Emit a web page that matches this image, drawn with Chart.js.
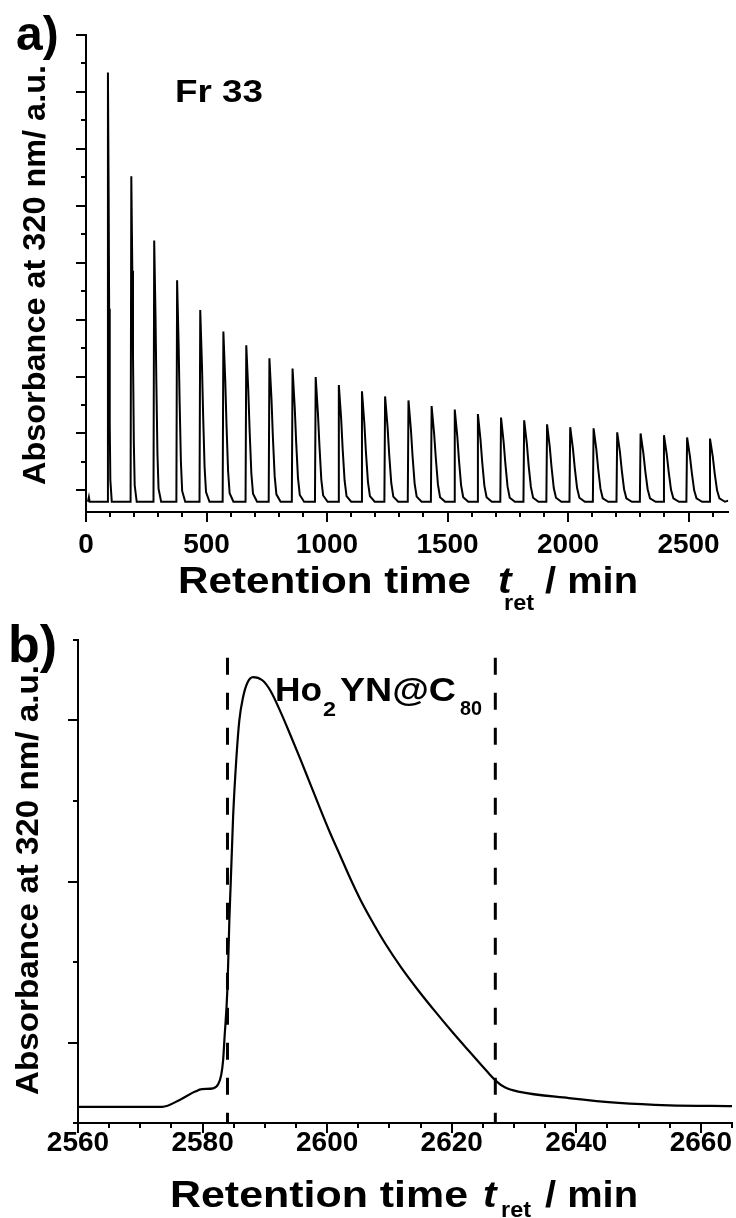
<!DOCTYPE html>
<html>
<head>
<meta charset="utf-8">
<title>Recycling HPLC of Fr 33</title>
<script src="https://cdn.jsdelivr.net/npm/chart.js@4.4.0/dist/chart.umd.min.js"></script>
<style>
  html, body { margin: 0; padding: 0; background: #fff; }
  #wrap { position: relative; width: 736px; height: 1218px; overflow: hidden; background: #fff; }
  canvas { position: absolute; left: 0; }
  #chartA { top: 0; }
  #chartB { top: 600px; }
</style>
</head>
<body>
<div id="wrap">
  <canvas id="chartA" width="736" height="630"></canvas>
  <canvas id="chartB" width="736" height="618"></canvas>
</div>
<script>
// ---------- panel a: 27 recycling passes of Fr 33 ----------
// retention time (min) and absorbance (a.u.), one row per pass
const passTime = [
  [8, 12, 15],
  [88, 91, 94, 96, 98.5, 101, 107],
  [185, 188, 192.2, 195, 198.5, 202, 210.4],
  [280, 283, 288.4, 292, 296.5, 301, 311.8],
  [375, 378, 384.3, 388.5, 393.8, 399, 411.6],
  [471, 474, 481.2, 486, 492, 498, 512.4],
  [567, 570, 577.8, 583, 589.5, 596, 611.6],
  [662, 665, 673.4, 679, 686, 693, 709.8],
  [758, 761, 769.7, 775.5, 782.8, 790, 807.4],
  [854, 857, 866, 872, 879.5, 887, 905],
  [950, 953, 962.3, 968.5, 976.3, 984, 1002.6],
  [1046, 1049, 1058.6, 1065, 1073, 1081, 1100.2],
  [1142, 1145, 1154.9, 1161.5, 1169.8, 1178, 1197.8],
  [1238, 1241, 1251.2, 1258, 1266.5, 1275, 1295.4],
  [1335, 1338, 1348.2, 1355, 1363.5, 1372, 1392.4],
  [1431, 1434, 1444.5, 1451.5, 1460.3, 1469, 1490],
  [1527, 1530, 1540.5, 1547.5, 1556.3, 1565, 1586],
  [1623, 1626, 1636.8, 1644, 1653, 1662, 1683.6],
  [1719, 1722, 1732.8, 1740, 1749, 1758, 1779.6],
  [1815, 1818, 1829.1, 1836.5, 1845.8, 1855, 1877.2],
  [1910, 1913, 1924.1, 1931.5, 1940.8, 1950, 1972.2],
  [2006, 2009, 2020.4, 2028, 2037.5, 2047, 2069.8],
  [2103, 2106, 2117.4, 2125, 2134.5, 2144, 2166.8],
  [2201, 2204, 2215.4, 2223, 2232.5, 2242, 2264.8],
  [2298, 2301, 2312.7, 2320.5, 2330.3, 2340, 2363.4],
  [2395, 2398, 2409.7, 2417.5, 2427.3, 2437, 2460.4],
  [2491, 2494, 2505.7, 2513.5, 2523.3, 2533, 2556.4],
  [2586, 2589, 2600.7, 2608.5, 2618.3, 2628, 2651.4],
  [2665]
];
const passSignal = [
  [-0.2, -0.12, -0.2],
  [-0.2, 7.34, 5.15, 3.19, 1.16, 0.18, -0.2],
  [-0.2, 5.52, 3.86, 2.37, 0.83, 0.09, -0.2],
  [-0.2, 4.39, 3.06, 1.87, 0.63, 0.03, -0.2],
  [-0.2, 3.69, 2.56, 1.55, 0.50, -0.01, -0.2],
  [-0.2, 3.17, 2.19, 1.32, 0.41, -0.03, -0.2],
  [-0.2, 2.79, 1.92, 1.15, 0.34, -0.05, -0.2],
  [-0.2, 2.55, 1.75, 1.04, 0.30, -0.06, -0.2],
  [-0.2, 2.32, 1.59, 0.93, 0.25, -0.07, -0.2],
  [-0.2, 2.14, 1.46, 0.85, 0.22, -0.08, -0.2],
  [-0.2, 1.99, 1.35, 0.79, 0.19, -0.09, -0.2],
  [-0.2, 1.85, 1.26, 0.72, 0.17, -0.10, -0.2],
  [-0.2, 1.74, 1.18, 0.67, 0.15, -0.10, -0.2],
  [-0.2, 1.65, 1.11, 0.63, 0.13, -0.11, -0.2],
  [-0.2, 1.58, 1.06, 0.60, 0.12, -0.11, -0.2],
  [-0.2, 1.48, 0.99, 0.56, 0.10, -0.12, -0.2],
  [-0.2, 1.42, 0.95, 0.53, 0.09, -0.12, -0.2],
  [-0.2, 1.34, 0.89, 0.49, 0.08, -0.12, -0.2],
  [-0.2, 1.28, 0.85, 0.47, 0.07, -0.13, -0.2],
  [-0.2, 1.23, 0.82, 0.44, 0.06, -0.13, -0.2],
  [-0.2, 1.16, 0.77, 0.41, 0.04, -0.13, -0.2],
  [-0.2, 1.11, 0.73, 0.39, 0.04, -0.13, -0.2],
  [-0.2, 1.09, 0.72, 0.38, 0.03, -0.14, -0.2],
  [-0.2, 1.02, 0.67, 0.35, 0.02, -0.14, -0.2],
  [-0.2, 1.00, 0.65, 0.34, 0.02, -0.14, -0.2],
  [-0.2, 0.97, 0.63, 0.33, 0.01, -0.14, -0.2],
  [-0.2, 0.93, 0.60, 0.31, 0.00, -0.14, -0.2],
  [-0.2, 0.91, 0.59, 0.30, 0.00, -0.14, -0.2],
  [-0.18]
];
const axisALabels = [0, 500, 1000, 1500, 2000, 2500];

// ---------- panel b: last pass, Ho2YN@C80 ----------
const lastPassTime = [2560, 2573.5, 2576.4, 2578.8, 2579.9, 2581.7, 2582.5, 2583.0, 2583.3, 2583.5,
  2584.0, 2584.3, 2584.9, 2585.4, 2585.9, 2586.5, 2587.2, 2588.1, 2589.6, 2590.9, 2592.5, 2594.1,
  2595.7, 2597.3, 2598.9, 2600.5, 2602.1, 2603.7, 2605.3, 2606.9, 2609.4, 2611.9, 2614.7, 2617.4,
  2620.1, 2622.7, 2625.0, 2627.0, 2628.6, 2630.7, 2638.8, 2646.8, 2654.9, 2665];
const lastPassSignal = [0.20, 0.20, 0.29, 0.39, 0.42, 0.43, 0.48, 0.60, 0.78, 1.03,
  1.69, 2.52, 3.80, 4.50, 5.00, 5.29, 5.47, 5.54, 5.50, 5.37, 5.11, 4.82,
  4.52, 4.21, 3.90, 3.60, 3.32, 3.04, 2.78, 2.55, 2.22, 1.93, 1.64, 1.38,
  1.13, 0.90, 0.70, 0.53, 0.44, 0.39, 0.31, 0.25, 0.22, 0.21];
const cutTimes = [2584, 2627];       // fraction collection window
const cutLineTop = 5.78;
const axisBLabels = [2560, 2580, 2600, 2620, 2640, 2660];

// ---------- shared styling ----------
const FAMILY = '"Liberation Sans", Arial, Helvetica, sans-serif';
const INK = '#000';

function toPoints(times, values) {
  const pts = [];
  times.forEach((row, i) => row.forEach((t, j) => pts.push({ x: t, y: values[i][j] })));
  return pts;
}
function range(from, to, step) {
  const out = [];
  for (let v = from; v <= to + 1e-9; v += step) out.push(Math.round(v * 1000) / 1000);
  return out;
}

// draws a bold string; optional horizontal stretch to a given width, rotation, centring
function label(ctx, str, x, y, size, o = {}) {
  ctx.save();
  ctx.font = (o.italic ? 'italic ' : '') + 'bold ' + size + 'px ' + FAMILY;
  ctx.fillStyle = INK;
  ctx.textBaseline = 'alphabetic';
  ctx.textAlign = 'left';
  const w = ctx.measureText(str).width;
  const sx = o.width ? o.width / w : (o.sx || 1);
  ctx.translate(x, y);
  if (o.rotate) ctx.rotate(o.rotate);
  ctx.scale(sx, 1);
  ctx.fillText(str, o.center ? -w / 2 : 0, 0);
  ctx.restore();
}

// outward tick marks, long for major values and short for minor ones
const tickMarks = {
  id: 'tickMarks',
  afterDraw(chart, args, opts) {
    const { ctx, chartArea } = chart;
    const xs = chart.scales.x, ys = chart.scales.y;
    ctx.save();
    ctx.strokeStyle = INK;
    ctx.lineWidth = 2;
    const draw = (scale, vals, len, horizontal) => vals.forEach(v => {
      const p = Math.round(scale.getPixelForValue(v));
      ctx.beginPath();
      if (horizontal) { ctx.moveTo(p, chartArea.bottom); ctx.lineTo(p, chartArea.bottom + len); }
      else { ctx.moveTo(chartArea.left, p); ctx.lineTo(chartArea.left - len, p); }
      ctx.stroke();
    });
    draw(xs, opts.xMajor, opts.majorLen, true);
    draw(xs, opts.xMinor, opts.minorLen, true);
    draw(ys, opts.yMajor, opts.majorLen, false);
    draw(ys, opts.yMinor, opts.minorLen, false);
    ctx.restore();
  }
};

function axisTitleX(ctx, x0, x1, base, tX, retX, slashX, retBase) {
  label(ctx, 'Retention time', x0, base, 37, { width: x1 - x0 });
  label(ctx, 't', tX, base, 37, { italic: true, sx: 1.1 });
  label(ctx, 'ret', retX, retBase, 22, { width: 30 });
  label(ctx, '/ min', slashX, base, 37, { width: 638 - slashX });
}

function baseOptions(pad, xMin, xMax, yMin, yMax, xLabels, xPad, xHeight) {
  return {
    responsive: false,
    animation: false,
    devicePixelRatio: 1,
    layout: { padding: pad },
    plugins: { legend: { display: false }, tooltip: { enabled: false } },
    scales: {
      x: {
        type: 'linear', min: xMin, max: xMax,
        border: { display: true, color: INK, width: 2 },
        grid: { display: false, drawTicks: false },
        afterBuildTicks: s => { s.ticks = xLabels.map(v => ({ value: v })); },
        afterFit: s => { s.height = xHeight; },
        ticks: {
          autoSkip: false, maxRotation: 0, padding: xPad, color: INK,
          font: { family: FAMILY, size: 28, weight: 'bold' },
          callback: v => String(v)
        }
      },
      y: {
        type: 'linear', min: yMin, max: yMax,
        border: { display: true, color: INK, width: 2 },
        grid: { display: false, drawTicks: false },
        ticks: { display: false },
        afterFit: s => { s.width = 0; }
      }
    }
  };
}

// ---------- chart a ----------
const optA = baseOptions({ left: 86, top: 35, right: 5, bottom: 0 }, 0, 2665, -0.38, 8, axisALabels, 16, 630 - 512);
optA.plugins.tickMarks = {
  xMajor: axisALabels, xMinor: range(100, 2600, 100).filter(v => v % 500 !== 0),
  yMajor: range(0, 8, 1), yMinor: range(0.5, 7.5, 1),
  majorLen: 10, minorLen: 5
};
optA.plugins.textA = {};
new Chart(document.getElementById('chartA'), {
  type: 'line',
  data: {
    datasets: [{
      data: toPoints(passTime, passSignal),
      borderColor: INK, borderWidth: 2, pointRadius: 0, tension: 0, fill: false
    }]
  },
  options: optA,
  plugins: [tickMarks, {
    id: 'textA',
    afterDraw(chart) {
      const ctx = chart.ctx;
      label(ctx, 'a)', 16, 50, 48);
      label(ctx, 'Fr 33', 175, 102, 31, { width: 88 });
      label(ctx, 'Absorbance at 320 nm/ a.u.', 45, 275, 31, { rotate: -Math.PI / 2, width: 420, center: true });
      axisTitleX(ctx, 178, 471, 593, 498, 504, 545, 610);
    }
  }]
});

// ---------- chart b ----------
const optB = baseOptions({ left: 78, top: 40, right: 4, bottom: 0 }, 2560, 2665, 0, 6, axisBLabels, 3, 618 - 523);
optB.plugins.tickMarks = {
  xMajor: axisBLabels, xMinor: range(2565, 2665, 5).filter(v => v % 20 !== 0),
  yMajor: [1, 3, 5], yMinor: [0, 2, 4, 6],
  majorLen: 10, minorLen: 5
};
const cutSets = cutTimes.map(t => ({
  data: [{ x: t, y: cutLineTop }, { x: t, y: 0 }],
  borderColor: INK, borderWidth: 3, borderDash: [17, 18], pointRadius: 0, fill: false, tension: 0
}));
new Chart(document.getElementById('chartB'), {
  type: 'line',
  data: {
    datasets: [{
      data: lastPassTime.map((t, i) => ({ x: t, y: lastPassSignal[i] })),
      borderColor: INK, borderWidth: 2.2, pointRadius: 0, fill: false,
      cubicInterpolationMode: 'monotone'
    }, ...cutSets]
  },
  options: optB,
  plugins: [tickMarks, {
    id: 'textB',
    afterDraw(chart) {
      const ctx = chart.ctx;
      label(ctx, 'b)', 8, 62, 52);
      label(ctx, 'Absorbance at 320 nm/ a.u.', 38, 280, 31, { rotate: -Math.PI / 2, width: 430, center: true });
      label(ctx, 'Ho', 275, 101, 33, { width: 47 });
      label(ctx, '2', 323, 116, 20, { width: 13 });
      label(ctx, 'YN@C', 340, 101, 33, { width: 116 });
      label(ctx, '80', 460, 115, 20, { width: 22 });
      axisTitleX(ctx, 170, 468, 607, 483, 501, 545, 617);
    }
  }]
});
</script>
</body>
</html>
